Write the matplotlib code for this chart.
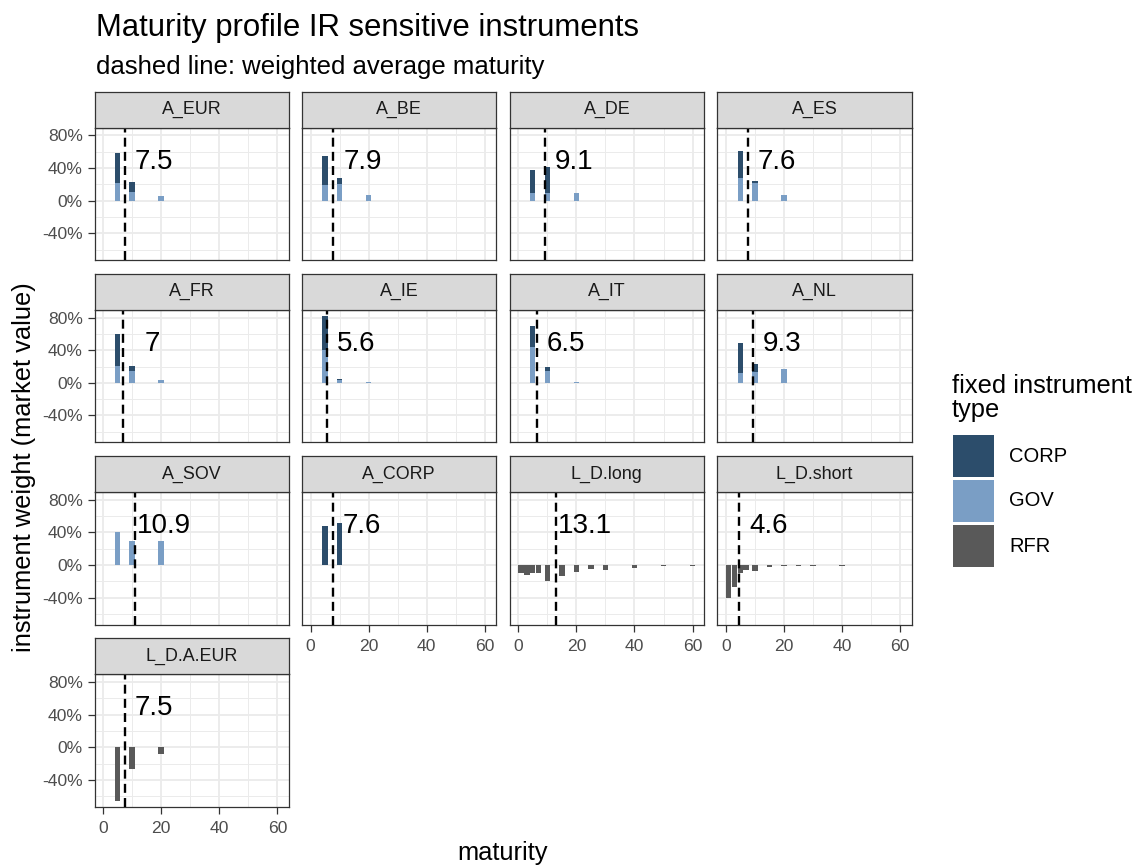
import matplotlib
matplotlib.use("Agg")
import matplotlib.pyplot as plt
from matplotlib.patches import Rectangle

plt.rcParams['font.family'] = ['Liberation Sans', 'DejaVu Sans']

# facets in display order
panels = ["A_EUR", "A_BE", "A_DE", "A_ES", "A_FR", "A_IE", "A_IT", "A_NL",
          "A_SOV", "A_CORP", "L_D.long", "L_D.short", "L_D.A.EUR"]
avg_maturity = [7.5, 7.9, 9.1, 7.6, 7.0, 5.6, 6.5, 9.3, 10.9, 7.6, 13.1, 4.6, 7.5]
avg_labels = ["7.5", "7.9", "9.1", "7.6", "7", "5.6", "6.5", "9.3", "10.9", "7.6",
              "13.1", "4.6", "7.5"]

# asset side: GOV / CORP weights at maturities 5, 10, 20
asset_mat = [5, 10, 20]
gov = [
    [0.220, 0.108, 0.062],   # A_EUR
    [0.190, 0.210, 0.075],   # A_BE
    [0.095, 0.095, 0.095],   # A_DE
    [0.280, 0.220, 0.075],   # A_ES
    [0.210, 0.150, 0.029],   # A_FR
    [0.400, 0.037, 0.005],   # A_IE
    [0.440, 0.150, 0.012],   # A_IT
    [0.120, 0.128, 0.174],   # A_NL
    [0.406, 0.294, 0.294],   # A_SOV
    [0.0, 0.0, 0.0],         # A_CORP
]
corp = [
    [0.360, 0.124, 0.0],
    [0.360, 0.063, 0.0],
    [0.278, 0.323, 0.0],
    [0.330, 0.016, 0.0],
    [0.390, 0.057, 0.0],
    [0.420, 0.012, 0.0],
    [0.260, 0.045, 0.0],
    [0.364, 0.108, 0.0],
    [0.0, 0.0, 0.0],
    [0.484, 0.520, 0.0],
]

# liability side: RFR weights
long_mat = [1, 3, 5, 7, 10, 15, 20, 25, 30, 40, 50, 60]
long_rfr = [-0.095, -0.12, -0.10, -0.095, -0.195, -0.13, -0.08, -0.054, -0.066,
            -0.037, -0.012, -0.012]
short_mat = [1, 3, 5, 7, 10, 15, 20, 25, 30, 40]
short_rfr = [-0.41, -0.27, -0.10, -0.06, -0.07, -0.02, -0.012, -0.01, -0.015, -0.008]
eur_mat = [5, 10, 20]
eur_rfr = [-0.656, -0.268, -0.078]

types = ["CORP", "GOV", "RFR"]
colors = {"CORP": "#2c4d6b", "GOV": "#7a9ec5", "RFR": "#595959"}

x_ticks = [0, 20, 40, 60]
x_minor = [10, 30, 50]
y_ticks = [-0.4, 0.0, 0.4, 0.8]
y_minor = [-0.6, -0.2, 0.2, 0.6]
y_tick_labels = ["-40%", "0%", "40%", "80%"]

W, H = 1139, 866
fig = plt.figure(figsize=(W / 100, H / 100), dpi=100)


def rect(x, y, w, h):
    return [x / W, 1 - (y + h) / H, w / W, h / H]


col_left = [94.5, 302.0, 509.7, 717.3]
panel_w = 194.3
strip_h = 36
panel_h = 132.5

for i, name in enumerate(panels):
    row, col = divmod(i, 4)
    top = 91.7 + 182.2 * row
    ax = fig.add_axes(rect(col_left[col], top + strip_h, panel_w, panel_h))
    st = fig.add_axes(rect(col_left[col], top, panel_w, strip_h))

    if name.startswith("A_"):
        ax.bar(asset_mat, gov[i], width=1.85, color=colors["GOV"], zorder=2)
        ax.bar(asset_mat, corp[i], width=1.85, bottom=gov[i], color=colors["CORP"], zorder=2)
    else:
        mat, val = {"L_D.long": (long_mat, long_rfr),
                    "L_D.short": (short_mat, short_rfr),
                    "L_D.A.EUR": (eur_mat, eur_rfr)}[name]
        ax.bar(mat, val, width=1.85, color=colors["RFR"], zorder=2)

    ax.axvline(avg_maturity[i], color="black", lw=1.7, ls=(0, (3.8, 2.2)), zorder=3)
    ax.text(avg_maturity[i] + 10, 0.475, avg_labels[i], ha="center", va="center",
            fontsize=20, color="black", zorder=4)

    ax.set_xlim(-2.94, 63.94)
    ax.set_ylim(-0.73, 0.894)
    ax.set_xticks(x_ticks)
    ax.set_xticks(x_minor, minor=True)
    ax.set_yticks(y_ticks)
    ax.set_yticks(y_minor, minor=True)
    ax.set_yticklabels(y_tick_labels)
    ax.grid(which="major", color="#EBEBEB", lw=1.3, zorder=0)
    ax.grid(which="minor", color="#EBEBEB", lw=0.7, zorder=0)
    ax.set_axisbelow(True)
    for s in ax.spines.values():
        s.set_color("#333333")
        s.set_linewidth(0.9)
    ax.tick_params(which="minor", length=0)
    ax.tick_params(which="major", length=5, width=0.9, color="#333333",
                   labelsize=12.6, labelcolor="#4D4D4D", pad=3.5)
    show_x = row == 3 or (row == 2 and col > 0)
    ax.tick_params(axis="x", bottom=show_x, labelbottom=show_x, pad=5.5)
    ax.tick_params(axis="y", left=(col == 0), labelleft=(col == 0))

    st.set_facecolor("#D9D9D9")
    st.set_xticks([])
    st.set_yticks([])
    for s in st.spines.values():
        s.set_color("#333333")
        s.set_linewidth(0.9)
    st.text(0.5, 0.5, name, ha="center", va="center", fontsize=12.9,
            color="#1A1A1A", transform=st.transAxes)

# titles
fig.text(96 / W, 1 - 36 / H, "Maturity profile IR sensitive instruments",
         fontsize=22.4, ha="left", va="baseline")
fig.text(96 / W, 1 - 74 / H, "dashed line: weighted average maturity",
         fontsize=18.5, ha="left", va="baseline")
fig.text(503 / W, 1 - 853 / H, "maturity", fontsize=18.4, ha="center", va="center")
fig.text(24 / W, 1 - 467 / H, "instrument weight (market value)", fontsize=18.4,
         ha="center", va="center", rotation=90)

# legend
fig.text(952 / W, 1 - 393 / H, "fixed instrument", fontsize=18.4, ha="left", va="baseline")
fig.text(952 / W, 1 - 417 / H, "type", fontsize=18.4, ha="left", va="baseline")
key_tops = [435, 480, 525]
for t, ky in zip(types, key_tops):
    fig.patches.append(Rectangle((952.5 / W, 1 - (ky + 41.5) / H), 41 / W, 41.5 / H,
                                 transform=fig.transFigure, facecolor=colors[t],
                                 edgecolor="none"))
    fig.text(1009 / W, 1 - (ky + 21) / H, t, fontsize=14.5, ha="left", va="center")

fig.savefig("out.png", dpi=100)
